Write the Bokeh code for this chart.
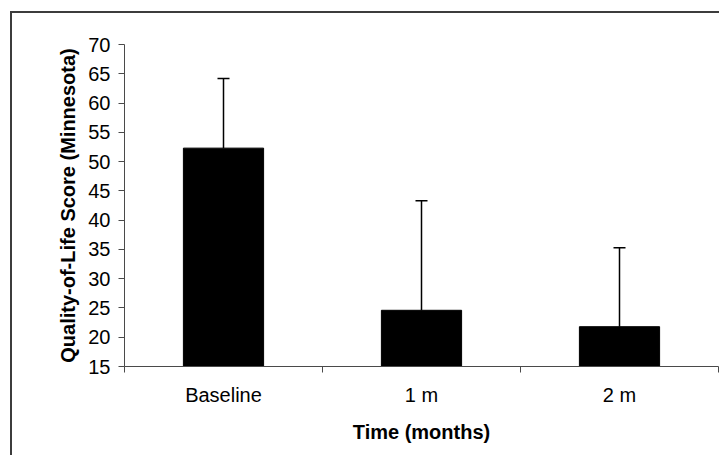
from bokeh.plotting import figure
from bokeh.layouts import column
from bokeh.models import ColumnDataSource, Range1d, FixedTicker, Whisker, TeeHead
from bokeh.embed import file_html
from bokeh.resources import INLINE

# Quality-of-life scores over follow-up
categories = ["Baseline", "1 m", "2 m"]
means = [52.3, 24.6, 21.8]
sds = [11.9, 18.7, 13.5]
y_ticks = [15, 20, 25, 30, 35, 40, 45, 50, 55, 60, 65, 70]

FONT = "Liberation Sans"

xs = [i + 0.5 for i in range(len(categories))]
src = ColumnDataSource(dict(
    x=xs,
    mean=means,
    upper=[m + s for m, s in zip(means, sds)],
))

p = figure(width=707, height=442, output_backend="svg", toolbar_location=None,
           x_range=Range1d(0, len(categories)), y_range=Range1d(15, 70),
           min_border_left=112, min_border_right=1,
           min_border_top=31, min_border_bottom=89)
p.outline_line_color = None
p.xgrid.visible = False
p.ygrid.visible = False
p.background_fill_color = "white"
p.border_fill_color = "white"

p.vbar(x="x", top="mean", bottom=15, width=0.405, source=src,
       fill_color="black", line_color="black")

err = Whisker(base="x", upper="upper", lower="mean", source=src,
              dimension="height", line_color="black", line_width=1.5,
              upper_head=TeeHead(size=12, line_color="black", line_width=1.5),
              lower_head=None)
p.add_layout(err)

axis_color = "#4a4a4a"

# x axis: labels at category centres, ticks at category boundaries
xa = p.xaxis[0]
xa.ticker = FixedTicker(ticks=xs, minor_ticks=list(range(len(categories) + 1)))
xa.major_label_overrides = {x: c for x, c in zip(xs, categories)}
xa.major_tick_in = 0
xa.major_tick_out = 0
xa.minor_tick_in = 0
xa.minor_tick_out = 6
xa.minor_tick_line_color = axis_color
xa.axis_line_color = axis_color
xa.major_label_standoff = 11
xa.major_label_text_font = FONT
xa.major_label_text_font_size = "20px"
xa.major_label_text_color = "black"
xa.axis_label = "Time (months)"
xa.axis_label_text_font = FONT
xa.axis_label_text_font_size = "20px"
xa.axis_label_text_font_style = "bold"
xa.axis_label_text_color = "black"
xa.axis_label_standoff = 12

ya = p.yaxis[0]
ya.ticker = FixedTicker(ticks=y_ticks, minor_ticks=[])
ya.major_tick_in = 0
ya.major_tick_out = 6
ya.major_tick_line_color = axis_color
ya.axis_line_color = axis_color
ya.major_label_standoff = 8
ya.major_label_text_font = FONT
ya.major_label_text_font_size = "20px"
ya.major_label_text_color = "black"
ya.axis_label = "Quality-of-Life Score (Minnesota)"
ya.axis_label_text_font = FONT
ya.axis_label_text_font_size = "20px"
ya.axis_label_text_font_style = "bold"
ya.axis_label_text_color = "black"
ya.axis_label_standoff = 6

# framed chart area (top and left edges visible)
layout = column(p, margin=(11, 0, 0, 10),
                styles={"border-top": "2px solid #3c3c3c",
                        "border-left": "2px solid #3c3c3c"})

open("out.html", "w").write(file_html(layout, INLINE))
